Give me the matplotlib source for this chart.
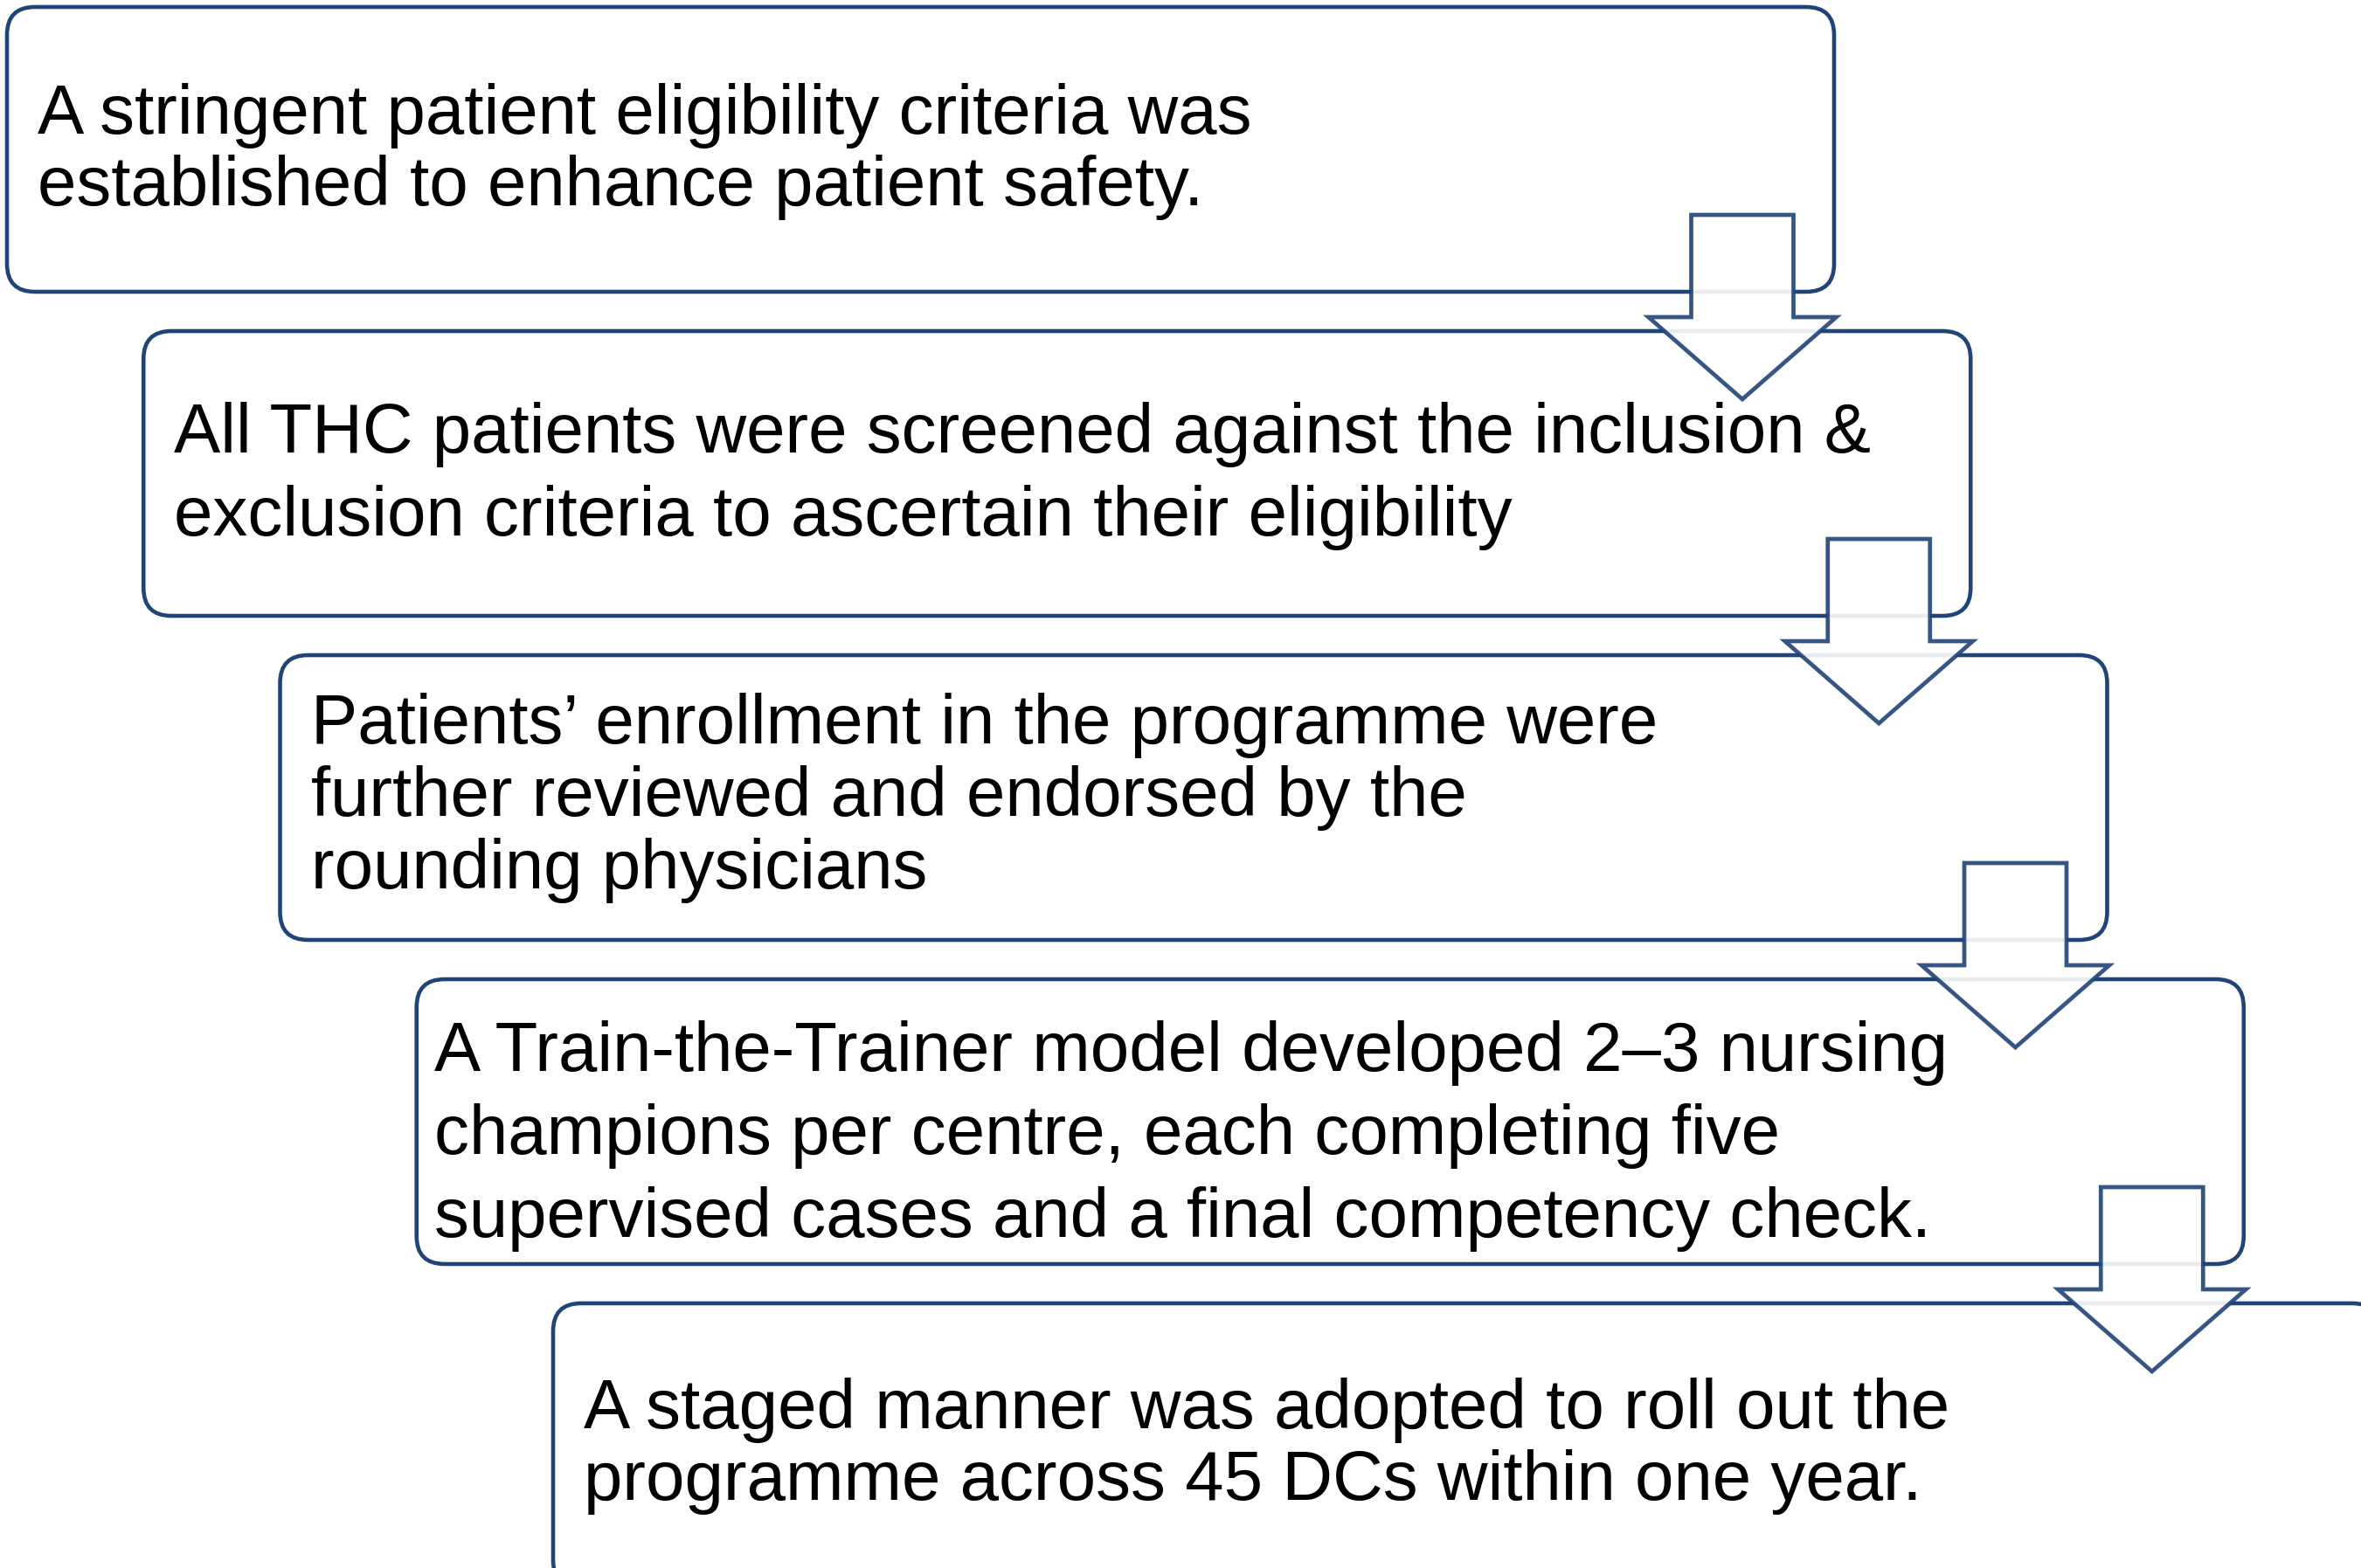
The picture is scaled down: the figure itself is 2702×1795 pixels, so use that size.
import matplotlib.pyplot as plt
from matplotlib.patches import FancyBboxPatch, Polygon

# Step texts, one list of lines per box
step_lines = [
    ["A stringent patient eligibility criteria was",
     "established to enhance patient safety."],
    ["All THC patients were screened against the inclusion &",
     "exclusion criteria to ascertain their eligibility"],
    ["Patients\u2019 enrollment in the programme were",
     "further reviewed and endorsed by the",
     "rounding physicians"],
    ["A Train-the-Trainer model developed 2\u20133 nursing",
     "champions per centre, each completing five",
     "supervised cases and a final competency check."],
    ["A staged manner was adopted to roll out the",
     "programme across 45 DCs within one year."],
]

# layout (pixel units, y down)
W, H = 2702, 1795
box_w, box_h = 2091, 326
step_x, step_y = 156.25, 371
x0, y0 = 8, 8
text_inset = [35, 35, 36, 20, 35]
first_base = [145, 139, 101, 105, 143]   # first baseline below box top
line_gap = [82, 95, 83, 95, 82]
edge = "#1F4477"

plt.rcParams['font.family'] = ['Liberation Sans', 'DejaVu Sans']

fig = plt.figure(figsize=(W / 100, H / 100), dpi=100)
ax = fig.add_axes([0, 0, 1, 1])
ax.set_xlim(0, W)
ax.set_ylim(H, 0)
ax.axis('off')

for i, lines in enumerate(step_lines):
    left = x0 + step_x * i
    top = y0 + step_y * i
    box = FancyBboxPatch((left, top), box_w, box_h,
                         boxstyle="round,pad=0,rounding_size=32",
                         facecolor="white", edgecolor=edge, linewidth=3.3,
                         zorder=1)
    ax.add_patch(box)

    for k, line in enumerate(lines):
        ax.text(left + text_inset[i], top + first_base[i] + k * line_gap[i], line,
                fontsize=57.5, color="black", ha='left', va='baseline',
                zorder=2)

    # block arrow to the next step
    if i < len(step_lines) - 1:
        cx = left + box_w - 105
        bottom = top + box_h
        sw, hw = 58.5, 107.5
        shaft_top = bottom - 88
        head_y = bottom + 29
        tip_y = bottom + 123
        pts = [(cx - sw, shaft_top), (cx + sw, shaft_top), (cx + sw, head_y),
               (cx + hw, head_y), (cx, tip_y), (cx - hw, head_y),
               (cx - sw, head_y)]
        arrow = Polygon(pts, closed=True, facecolor=(1, 1, 1, 0.9),
                        edgecolor=(0x1F / 255, 0x44 / 255, 0x77 / 255, 0.9),
                        linewidth=3.4, joinstyle='miter', zorder=3)
        ax.add_patch(arrow)

fig.savefig("out.png", dpi=100, facecolor="white")
